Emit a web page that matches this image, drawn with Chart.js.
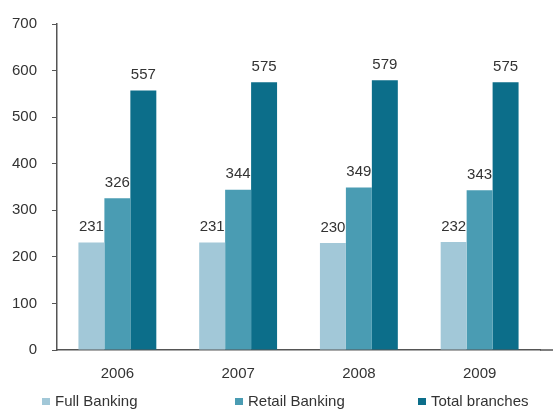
<!DOCTYPE html>
<html>
<head>
<meta charset="utf-8">
<script src="https://cdn.jsdelivr.net/npm/chart.js@4/dist/chart.umd.min.js"></script>
<style>
  html, body { margin: 0; padding: 0; background: #fff; }
  #wrap { position: relative; width: 555px; height: 409px; overflow: hidden; }
  canvas { position: absolute; left: 0; top: 0; }
  .lg { position: absolute; top: 393px; font-family: "Liberation Sans", Arial, sans-serif; font-size: 15px; color: #333; line-height: 16px; white-space: nowrap; }
  .lg i { position: absolute; left: -13px; top: 5px; width: 8px; height: 7px; display: block; }
</style>
</head>
<body>
<div id="wrap">
  <canvas id="c" width="555" height="409"></canvas>
  <div id="legend"></div>
</div>
<script>
const categories = ["2006", "2007", "2008", "2009"];
const seriesNames = ["Full Banking", "Retail Banking", "Total branches"];
const fullBanking = [231, 231, 230, 232];
const retailBanking = [326, 344, 349, 343];
const totalBranches = [557, 575, 579, 575];
const yTicks = [0, 100, 200, 300, 400, 500, 600, 700];
const colors = ["#a2c8d8", "#4a9cb3", "#0c6e8a"];
const legendLeft = [55, 248, 431];

const valueLabels = {
  id: "valueLabels",
  afterDatasetsDraw(chart) {
    const ctx = chart.ctx;
    ctx.save();
    ctx.font = "15px 'Liberation Sans', Arial, sans-serif";
    ctx.fillStyle = "#333";
    ctx.textAlign = "center";
    ctx.textBaseline = "bottom";
    chart.data.datasets.forEach((ds, i) => {
      chart.getDatasetMeta(i).data.forEach((el, j) => {
        ctx.fillText(String(ds.data[j]), el.x, el.y - 8);
      });
    });
    ctx.restore();
  }
};

const axisExtend = {
  id: "axisExtend",
  afterDraw(chart) {
    const ctx = chart.ctx;
    const x = chart.scales.x;
    const yPix = chart.scales.y.getPixelForValue(0);
    ctx.save();
    ctx.strokeStyle = "#555";
    ctx.lineWidth = 1.5;
    ctx.beginPath();
    ctx.moveTo(x.right, yPix);
    ctx.lineTo(chart.width - 2, yPix);
    ctx.stroke();
    ctx.restore();
  }
};

new Chart(document.getElementById("c"), {
  type: "bar",
  data: {
    labels: categories,
    datasets: [
      { label: seriesNames[0], data: fullBanking, backgroundColor: colors[0] },
      { label: seriesNames[1], data: retailBanking, backgroundColor: colors[1] },
      { label: seriesNames[2], data: totalBranches, backgroundColor: colors[2] }
    ]
  },
  options: {
    responsive: false,
    devicePixelRatio: 1,
    animation: false,
    layout: { padding: { top: 24, right: 15, left: 0, bottom: 0 } },
    datasets: { bar: { barPercentage: 1, categoryPercentage: 0.645 } },
    plugins: { legend: { display: false }, tooltip: { enabled: false } },
    scales: {
      x: {
        grid: { display: true, drawOnChartArea: false, drawTicks: false },
        border: { display: true, color: "#555", width: 1.5 },
        ticks: { color: "#333", font: { family: "'Liberation Sans', Arial, sans-serif", size: 15 }, padding: 15 },
        afterFit(s) { s.height = 59; }
      },
      y: {
        min: 0, max: 700,
        afterBuildTicks(s) { s.ticks = yTicks.map(v => ({ value: v })); },
        grid: { display: true, drawOnChartArea: false, tickLength: 5, color: "#555" },
        border: { display: true, color: "#555", width: 1.5 },
        ticks: { color: "#333", font: { family: "'Liberation Sans', Arial, sans-serif", size: 15 }, padding: 15 },
        afterFit(s) { s.width = 57; }
      }
    }
  },
  plugins: [valueLabels, axisExtend]
});

const lg = document.getElementById("legend");
seriesNames.forEach((name, i) => {
  const d = document.createElement("div");
  d.className = "lg";
  d.style.left = legendLeft[i] + "px";
  const box = document.createElement("i");
  box.style.background = colors[i];
  d.appendChild(box);
  d.appendChild(document.createTextNode(name));
  lg.appendChild(d);
});
</script>
</body>
</html>
